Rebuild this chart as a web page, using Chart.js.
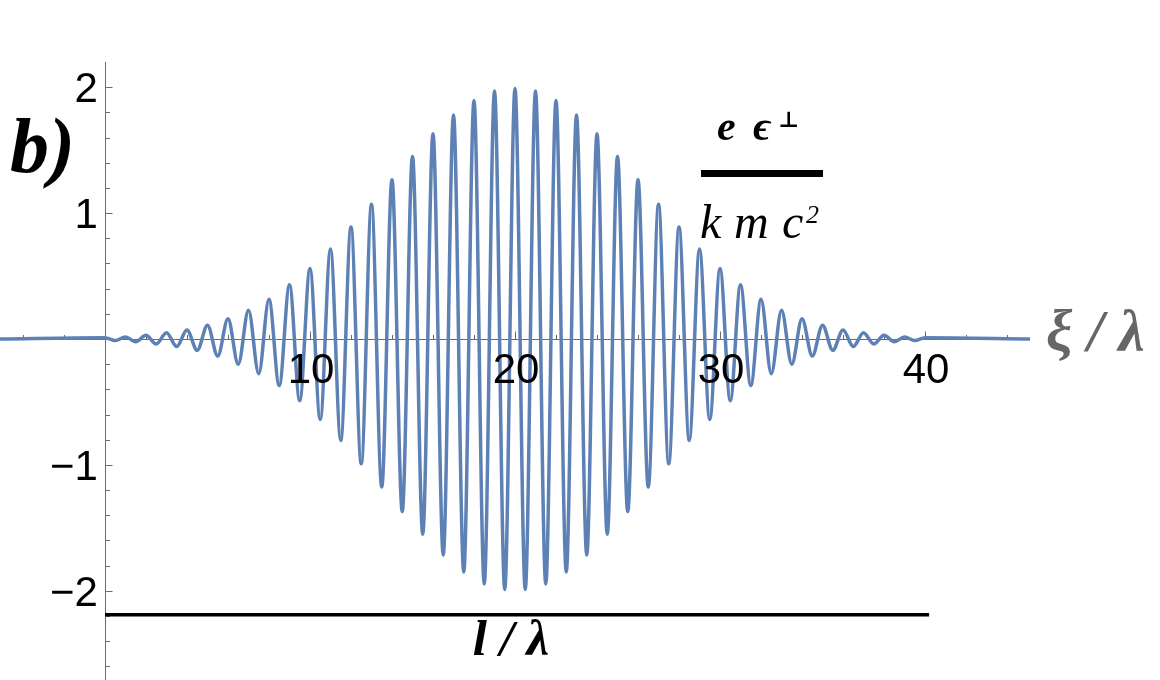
<!DOCTYPE html>
<html>
<head>
<meta charset="utf-8">
<script src="https://cdn.jsdelivr.net/npm/chart.js@4/dist/chart.umd.min.js"></script>
<style>
    html, body { margin: 0; padding: 0; background: #fff; }
    #wrap { width: 1160px; height: 680px; position: relative; }
</style>
</head>
<body>
<div id="wrap"><canvas id="chart_packet"></canvas></div>
<script>
// xi / lambda positions of the crests and troughs
var xiValues = [
    -5.12,
    0, 0.5, 1, 1.5, 2, 2.5, 3, 3.5, 4, 4.5, 5, 5.5, 6, 6.5, 7, 7.5, 8, 8.5, 9, 9.5,
    10, 10.5, 11, 11.5, 12, 12.5, 13, 13.5, 14, 14.5, 15, 15.5, 16, 16.5, 17, 17.5, 18, 18.5, 19, 19.5,
    20, 20.5, 21, 21.5, 22, 22.5, 23, 23.5, 24, 24.5, 25, 25.5, 26, 26.5, 27, 27.5, 28, 28.5, 29, 29.5,
    30, 30.5, 31, 31.5, 32, 32.5, 33, 33.5, 34, 34.5, 35, 35.5, 36, 36.5, 37, 37.5, 38, 38.5, 39, 39.5,
    40,
    45.12
];
// e eps_perp / (k m c^2) at those positions
var fieldValues = [
    0,
    0.01, -0.012, 0.016, -0.022, 0.03, -0.04, 0.05, -0.06, 0.072, -0.09, 0.11, -0.135, 0.16, -0.2, 0.228, -0.275, 0.315, -0.37, 0.43, -0.49,
    0.56, -0.64, 0.715, -0.805, 0.89, -0.99, 1.07, -1.175, 1.265, -1.37, 1.45, -1.55, 1.63, -1.715, 1.78, -1.85, 1.895, -1.945, 1.97, -1.99,
    1.99, -1.99, 1.97, -1.945, 1.895, -1.85, 1.78, -1.715, 1.63, -1.55, 1.45, -1.37, 1.265, -1.175, 1.07, -0.99, 0.89, -0.805, 0.715, -0.64,
    0.56, -0.49, 0.43, -0.37, 0.315, -0.275, 0.228, -0.2, 0.16, -0.135, 0.11, -0.09, 0.072, -0.06, 0.05, -0.04, 0.03, -0.022, 0.016, -0.012,
    0.01,
    0
];
// pulse length bar l / lambda
var lSpanX = [0, 40.2];
var lSpanY = -2.19;

var xTickValues = [10, 20, 30, 40];
var xTickLabels = ['10', '20', '30', '40'];
var yTickValues = [2, 1, -1, -2];
var yTickLabels = ['2', '1', '\u22121', '\u22122'];

var SANS = '"Liberation Sans", Arial, sans-serif';
var SERIF = '"Liberation Serif", "DejaVu Serif", "Times New Roman", serif';

var packetData = xiValues.map(function (x, i) { return {x: x, y: fieldValues[i]}; });
var lSpanData = lSpanX.map(function (x) { return {x: x, y: lSpanY}; });

// mathematica style axes: crossing at the origin, ticks on the inner side
var axesPlugin = {
    id: 'mmaAxes',
    beforeDatasetsDraw: function (chart) {
        var ctx = chart.ctx, area = chart.chartArea;
        var sx = chart.scales.x, sy = chart.scales.y;
        var x0 = Math.round(sx.getPixelForValue(0)) + 0.5;
        var y0 = Math.round(sy.getPixelForValue(0)) + 0.5;
        ctx.save();
        ctx.strokeStyle = '#6b6b6b';
        ctx.lineWidth = 1;
        ctx.beginPath();
        ctx.moveTo(area.left, y0);
        ctx.lineTo(area.right, y0);
        ctx.moveTo(x0, area.top);
        ctx.lineTo(x0, area.bottom);
        for (var v = -4; v <= 44; v += 2) {
            if (v === 0) continue;
            var px = Math.round(sx.getPixelForValue(v)) + 0.5;
            var len = v % 10 === 0 ? 8 : 4.5;
            ctx.moveTo(px, y0);
            ctx.lineTo(px, y0 - len);
        }
        for (var k = -13; k <= 10; k++) {
            if (k === 0) continue;
            var py = Math.round(sy.getPixelForValue(k / 5)) + 0.5;
            var ylen = k % 5 === 0 ? 7 : 4.5;
            ctx.moveTo(x0, py);
            ctx.lineTo(x0 + ylen, py);
        }
        ctx.stroke();
        ctx.restore();
    },
    afterDraw: function (chart) {
        var ctx = chart.ctx;
        var sx = chart.scales.x, sy = chart.scales.y;
        var x0 = sx.getPixelForValue(0), y0 = sy.getPixelForValue(0);
        ctx.save();
        ctx.fillStyle = '#000';
        ctx.font = '42px ' + SANS;
        ctx.textBaseline = 'alphabetic';
        ctx.textAlign = 'center';
        xTickValues.forEach(function (v, i) {
            ctx.fillText(xTickLabels[i], sx.getPixelForValue(v) + 1, y0 + 44);
        });
        ctx.textAlign = 'right';
        yTickValues.forEach(function (v, i) {
            ctx.fillText(yTickLabels[i], x0 - 7, sy.getPixelForValue(v) + 15);
        });

        // panel tag
        ctx.textAlign = 'left';
        ctx.font = 'bold italic 78px ' + SERIF;
        ctx.fillText('b)', 10, 172);

        // y label as a fraction
        ctx.font = 'bold italic 42px ' + SERIF;
        ctx.fillText('e', 717, 140);
        ctx.fillText('\u03f5', 753, 140);
        ctx.font = 'bold 22px ' + SERIF;
        ctx.fillText('\u22a5', 778, 127);
        ctx.fillRect(701, 170, 122, 7);
        ctx.font = 'italic 48px ' + SERIF;
        ctx.fillText('k', 700, 238);
        ctx.fillText('m', 734, 238);
        ctx.fillText('c', 782, 238);
        ctx.font = 'italic 26px ' + SERIF;
        ctx.fillText('2', 806, 223);

        // x label
        ctx.fillStyle = '#666666';
        ctx.font = 'bold italic 59px ' + SERIF;
        ctx.fillText('\u03be / \u03bb', 1046, 351);

        // pulse length label
        ctx.fillStyle = '#000';
        ctx.textAlign = 'center';
        ctx.font = 'bold italic 51px ' + SERIF;
        ctx.fillText('l / \u03bb', 511, 655);
        ctx.restore();
    }
};

var ctx = document.getElementById('chart_packet');
var packetChart = new Chart(ctx, {
    type: 'line',
    data: {
        datasets: [{
            data: packetData,
            borderColor: '#5e81b5',
            borderWidth: 3.5,
            cubicInterpolationMode: 'monotone',
            borderCapStyle: 'round',
            pointRadius: 0,
            fill: false
        }, {
            data: lSpanData,
            borderColor: '#000000',
            borderWidth: 3.5,
            tension: 0,
            pointRadius: 0,
            fill: false
        }]
    },
    options: {
        responsive: true,
        maintainAspectRatio: false,
        animation: false,
        events: [],
        layout: {padding: {left: 0, right: 130, top: 62, bottom: 0}},
        plugins: {legend: {display: false}, tooltip: {enabled: false}},
        scales: {
            x: {type: 'linear', min: -5.12, max: 45.12, display: false},
            y: {type: 'linear', min: -2.708, max: 2.2, display: false}
        }
    },
    plugins: [axesPlugin]
});
</script>
</body>
</html>
